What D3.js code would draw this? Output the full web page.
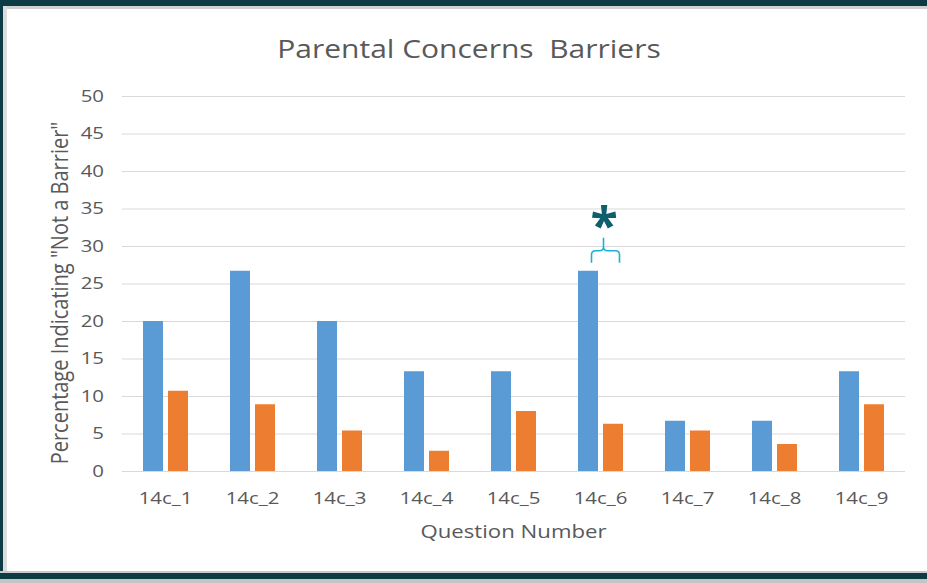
<!DOCTYPE html>
<html>
<head>
<meta charset="utf-8">
<script src="https://cdn.jsdelivr.net/npm/d3@7"></script>
<style>
  body { margin: 0; background: #fff; }
  svg { display: block; }
  svg text { font-family: "Open Sans", "Noto Sans", sans-serif; }
</style>
</head>
<body>
<script>
// chart data
var questions = ["14c_1", "14c_2", "14c_3", "14c_4", "14c_5", "14c_6", "14c_7", "14c_8", "14c_9"];
var seriesA = [20, 26.7, 20, 13.3, 13.3, 26.7, 6.7, 6.7, 13.3];
var seriesB = [10.7, 8.9, 5.4, 2.7, 8.0, 6.3, 5.4, 3.6, 8.9];
var yTicks = [0, 5, 10, 15, 20, 25, 30, 35, 40, 45, 50];
var starredQuestion = "14c_6";
var starredValue = 26.7;

var W = 927, H = 583;
var stretch = 1.2; // the original text is a bit wide
var svg = d3.select("body").append("svg")
            .attr("width", W)
            .attr("height", H);

// frame
svg.append("rect").attr("x", 0).attr("y", 0).attr("width", W).attr("height", H).attr("fill", "#fff");
svg.append("rect").attr("x", 0).attr("y", 0).attr("width", W).attr("height", 6).attr("fill", "#0d3b45");
svg.append("rect").attr("x", 0).attr("y", 6).attr("width", W).attr("height", 3).attr("fill", "#d0d0d0");
svg.append("rect").attr("x", 0).attr("y", 0).attr("width", 3).attr("height", 579).attr("fill", "#0d3b45");
svg.append("rect").attr("x", 3).attr("y", 6).attr("width", 4).attr("height", 567).attr("fill", "#dcdcdc");
svg.append("rect").attr("x", 0).attr("y", 571).attr("width", W).attr("height", 2).attr("fill", "#c8c8c8");
svg.append("rect").attr("x", 0).attr("y", 573).attr("width", W).attr("height", 6).attr("fill", "#0d3b45");
svg.append("rect").attr("x", 0).attr("y", 579).attr("width", W).attr("height", 4).attr("fill", "#c4c4c4");

var margin = {left: 122, right: 22, top: 96, bottom: 112};
var width = W - margin.left - margin.right;
var height = H - margin.top - margin.bottom;

var g = svg.append("g")
           .attr("transform", "translate(" + margin.left + "," + margin.top + ")");

var x = d3.scaleBand().domain(questions).range([0, width]);
var y = d3.scaleLinear().domain([0, 50]).range([height, 0]);

var barW = 20, gap = 5;

// gridlines
g.selectAll(".grid").data(yTicks).enter().append("line")
  .attr("x1", 0).attr("x2", width)
  .attr("y1", function(d) { return y(d) + 0.5; })
  .attr("y2", function(d) { return y(d) + 0.5; })
  .attr("stroke", "#d9d9d9").attr("stroke-width", 1);

// y axis labels
var yAxis = d3.axisLeft(y).tickValues(yTicks).tickSize(0).tickPadding(15);
var ya = g.append("g").call(yAxis);
ya.select(".domain").remove();
ya.attr("font-family", null);
ya.selectAll("text").attr("fill", "#595959").style("font-size", "17px")
  .attr("transform", "scale(" + stretch + ",1)");

// x axis labels
var xAxis = d3.axisBottom(x).tickSize(0).tickPadding(21);
var xa = g.append("g").attr("transform", "translate(0," + height + ")").call(xAxis);
xa.select(".domain").remove();
xa.attr("font-family", null);
xa.selectAll("text").attr("fill", "#595959").style("font-size", "17px")
  .attr("transform", "scale(" + stretch + ",1)");

// bars
var mid = function(q) { return x(q) + x.bandwidth() / 2; };
g.selectAll(".barA").data(questions).enter().append("rect")
  .attr("x", function(d) { return mid(d) - gap / 2 - barW; })
  .attr("y", function(d, i) { return y(seriesA[i]); })
  .attr("width", barW)
  .attr("height", function(d, i) { return height - y(seriesA[i]); })
  .attr("fill", "#5b9bd5");
g.selectAll(".barB").data(questions).enter().append("rect")
  .attr("x", function(d) { return mid(d) + gap / 2; })
  .attr("y", function(d, i) { return y(seriesB[i]); })
  .attr("width", barW)
  .attr("height", function(d, i) { return height - y(seriesB[i]); })
  .attr("fill", "#ed7d31");

// brace + asterisk over the starred question
var cx = mid(starredQuestion);
var barTop = y(starredValue);
var bl = cx - 9, br = cx + 19, bc = cx + 3;
var hy = barTop - 20, r = 4;
var brace = "M" + bl + "," + (barTop - 8) +
  " L" + bl + "," + (hy + r) +
  " Q" + bl + "," + hy + " " + (bl + r) + "," + hy +
  " L" + (bc - r) + "," + hy +
  " Q" + bc + "," + hy + " " + bc + "," + (hy - r) +
  " L" + bc + "," + (barTop - 33) +
  " M" + bc + "," + (hy - r) +
  " Q" + bc + "," + hy + " " + (bc + r) + "," + hy +
  " L" + (br - r) + "," + hy +
  " Q" + br + "," + hy + " " + br + "," + (hy + r) +
  " L" + br + "," + (barTop - 8);
g.append("path").attr("d", brace)
  .attr("fill", "none").attr("stroke", "#17b3d3").attr("stroke-width", 1.6);
g.append("text")
  .attr("x", bc + 0.5).attr("y", barTop - 28)
  .attr("text-anchor", "middle")
  .attr("fill", "#0e5f6e")
  .style("font-size", "50px").style("font-weight", "bold")
  .text("*");

// title
svg.append("text")
  .attr("transform", "translate(469,58) scale(" + stretch + ",1)")
  .attr("text-anchor", "middle")
  .attr("fill", "#595959")
  .style("font-size", "25px")
  .style("white-space", "pre")
  .text("Parental Concerns  Barriers");

// axis titles
svg.append("text")
  .attr("transform", "translate(" + (margin.left + width / 2) + ",538) scale(" + stretch + ",1)")
  .attr("text-anchor", "middle")
  .attr("fill", "#595959")
  .style("font-size", "18.5px")
  .text("Question Number");

svg.append("text")
  .attr("transform", "translate(68,293) scale(" + stretch + ",1) rotate(-90)")
  .attr("text-anchor", "middle")
  .attr("fill", "#595959")
  .style("font-size", "20px")
  .text("Percentage Indicating \"Not a Barrier\"");
</script>
</body>
</html>
